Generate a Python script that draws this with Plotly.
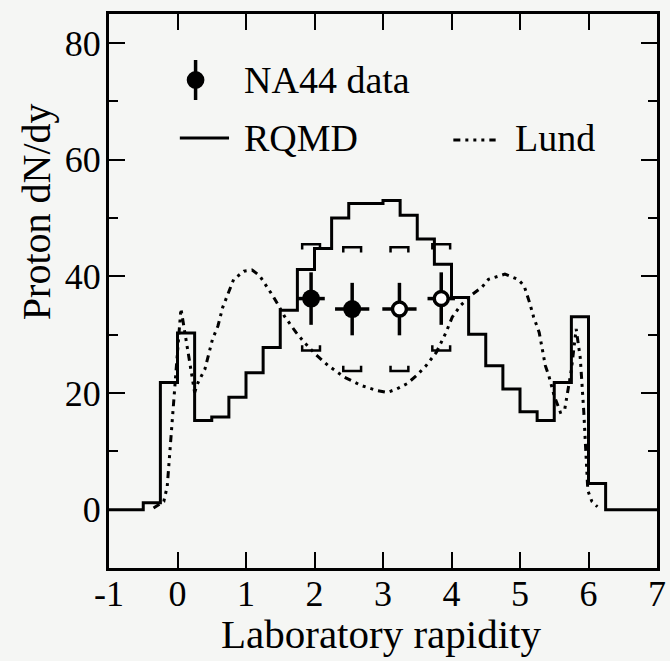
import plotly.graph_objects as go

# RQMD prediction: histogram bin edges (laboratory rapidity) and proton dN/dy per bin
rqmd_edges = [-1.0, -0.5, -0.25, 0.0, 0.25, 0.5, 0.75, 1.0, 1.25, 1.5, 1.75, 2.0,
              2.25, 2.5, 2.75, 3.0, 3.25, 3.5, 3.75, 4.0, 4.25, 4.5, 4.75, 5.0,
              5.25, 5.5, 5.75, 6.0, 6.25, 7.0]
rqmd_dndy = [0.0, 1.2, 21.8, 30.3, 15.3, 15.9, 19.3, 23.5, 27.8, 34.2, 41.2, 44.8,
             50.0, 52.5, 52.5, 53.0, 50.5, 46.4, 42.1, 36.4, 30.1, 24.7, 20.7, 16.8,
             15.3, 21.8, 33.1, 4.5, 0.0]

# Lund (FRITIOF) prediction
lund_y_lab = [-0.35, -0.2, -0.15, -0.08, -0.02, 0.05, 0.13, 0.2, 0.25, 0.3, 0.4, 0.51,
              0.59, 0.66, 0.73, 0.82, 0.97, 1.09, 1.2, 1.3, 1.39, 1.49, 1.56, 1.73,
              1.85, 2.01, 2.2, 2.44, 2.68, 2.92, 3.06, 3.2, 3.35, 3.49, 3.63, 3.78,
              3.92, 4.01, 4.13, 4.3, 4.44, 4.54, 4.78, 4.97, 5.06, 5.14, 5.2, 5.28,
              5.32, 5.37, 5.42, 5.5, 5.59, 5.65, 5.75, 5.82, 5.88, 5.93, 5.99, 6.05, 6.13]
lund_dndy = [0.3, 1.4, 4.0, 14.0, 24.0, 34.5, 29.0, 24.0, 20.1, 21.8, 24.1, 29.2,
             31.5, 34.7, 36.9, 39.5, 40.9, 41.1, 40.1, 38.4, 36.7, 34.7, 33.2, 30.4,
             28.7, 26.7, 24.7, 22.7, 21.3, 20.4, 20.1, 20.7, 21.6, 23.0, 24.7, 27.0,
             30.4, 33.0, 35.0, 36.9, 38.1, 39.5, 40.4, 39.5, 38.4, 35.5, 33.0, 30.4,
             27.8, 24.7, 23.0, 19.5, 16.7, 17.0, 24.0, 31.0, 26.0, 17.0, 3.3, 1.4, 0.5]

# NA44 measured points and their reflection about mid-rapidity
na44_y_lab = [1.95, 2.55]
na44_dndy = [36.2, 34.4]
refl_y_lab = [3.24, 3.85]
refl_dndy = [34.4, 36.2]
stat_err = [4.5, 4.5]
refl_stat_err = [4.5, 4.5]
bin_halfwidth = [0.2, 0.25]
refl_bin_halfwidth = [0.25, 0.2]

# systematic error brackets (upper / lower) for all four points
sys_y_lab = na44_y_lab + refl_y_lab
sys_hi = [45.5, 45.0, 45.0, 45.5]
sys_lo = [27.3, 23.8, 23.8, 27.3]

x_ticks = [-1, 0, 1, 2, 3, 4, 5, 6, 7]
y_ticks = [0, 20, 40, 60, 80]

FONT = "Liberation Serif, Times New Roman, serif"
INK = "black"
BG = "#f5f6f4"
DASHDOT = "7px,5px,3px,5px,3px,5px,3px,5px"

fig = go.Figure()

# histogram drawn as a stepped line
step_x = rqmd_edges[:-1] + [rqmd_edges[-1]]
step_y = rqmd_dndy + [rqmd_dndy[-1]]
fig.add_trace(go.Scatter(x=step_x, y=step_y, mode="lines", line_shape="hv",
                         line=dict(color=INK, width=3), hoverinfo="skip"))

fig.add_trace(go.Scatter(x=lund_y_lab, y=lund_dndy, mode="lines",
                         line=dict(color=INK, width=3, dash=DASHDOT),
                         hoverinfo="skip"))

# systematic brackets: short horizontal bar with end ticks pointing toward the point
bx, by = [], []
half = 0.13
tick = 0.9
for xc, hi, lo in zip(sys_y_lab, sys_hi, sys_lo):
    bx += [xc - half, xc - half, xc + half, xc + half, None]
    by += [hi - tick, hi, hi, hi - tick, None]
    bx += [xc - half, xc - half, xc + half, xc + half, None]
    by += [lo + tick, lo, lo, lo + tick, None]
fig.add_trace(go.Scatter(x=bx, y=by, mode="lines", line=dict(color=INK, width=2.5),
                         hoverinfo="skip"))

err_style = dict(type="data", color=INK, thickness=3.5, width=0)
fig.add_trace(go.Scatter(
    x=na44_y_lab, y=na44_dndy, mode="markers",
    error_y=dict(array=stat_err, **err_style),
    error_x=dict(array=bin_halfwidth, **err_style),
    marker=dict(symbol="circle", size=18, color=INK, line=dict(width=0))))
fig.add_trace(go.Scatter(
    x=refl_y_lab, y=refl_dndy, mode="markers",
    error_y=dict(array=refl_stat_err, **err_style),
    error_x=dict(array=refl_bin_halfwidth, **err_style),
    marker=dict(symbol="circle", size=14, color="white", line=dict(width=3.5, color=INK))))

# legend, drawn by hand in paper coordinates
W, H = 670, 661
L, R, T, B = 109, 4, 14, 93
pw, ph = W - L - R, H - T - B


def px(x):
    return (x - L) / pw


def py(y):
    return (H - B - y) / ph


shapes = []
# NA44 symbol
r = 9
shapes.append(dict(type="line", xref="paper", yref="paper", x0=px(197), x1=px(197),
                   y0=py(60), y1=py(100), line=dict(color=INK, width=3.5)))
shapes.append(dict(type="circle", xref="paper", yref="paper", x0=px(197 - r), x1=px(197 + r),
                   y0=py(80 + r), y1=py(80 - r), fillcolor=INK, line=dict(color=INK, width=0)))
# RQMD sample
shapes.append(dict(type="line", xref="paper", yref="paper", x0=px(181), x1=px(231),
                   y0=py(138), y1=py(138), line=dict(color=INK, width=3)))
# Lund sample
shapes.append(dict(type="line", xref="paper", yref="paper", x0=px(459), x1=px(502),
                   y0=py(140), y1=py(140), line=dict(color=INK, width=3, dash=DASHDOT)))

annotations = [
    dict(text="NA44 data", x=px(244), y=py(80), xref="paper", yref="paper",
         xanchor="left", yanchor="middle", showarrow=False, font=dict(size=38, color=INK, family=FONT)),
    dict(text="RQMD", x=px(244), y=py(138), xref="paper", yref="paper",
         xanchor="left", yanchor="middle", showarrow=False, font=dict(size=38, color=INK, family=FONT)),
    dict(text="Lund", x=px(520), y=py(138), xref="paper", yref="paper",
         xanchor="left", yanchor="middle", showarrow=False, font=dict(size=38, color=INK, family=FONT)),
    dict(text="Proton dN/dy", x=px(36), y=py(212), xref="paper", yref="paper", textangle=-90,
         xanchor="center", yanchor="middle", showarrow=False, font=dict(size=40, color=INK, family=FONT)),
    dict(text="Laboratory rapidity", x=px(385), y=py(634), xref="paper", yref="paper",
         xanchor="center", yanchor="middle", showarrow=False, font=dict(size=41, color=INK, family=FONT)),
]

axis_common = dict(showline=True, linewidth=3, linecolor=INK, mirror="allticks",
                   ticks="inside", ticklen=16, tickwidth=2, tickcolor=INK,
                   showgrid=False, zeroline=False, ticklabeloverflow="allow",
                   tickfont=dict(size=36, color=INK, family=FONT))

fig.update_layout(
    width=W, height=H,
    margin=dict(l=L, r=R, t=T, b=B),
    paper_bgcolor=BG, plot_bgcolor=BG,
    showlegend=False,
    shapes=shapes, annotations=annotations,
    xaxis=dict(range=[-1, 7], tickvals=x_ticks, ticktext=[str(v) for v in x_ticks],
               ticklabelstandoff=-8, **axis_common),
    yaxis=dict(range=[-10, 85], tickvals=y_ticks, ticktext=[str(v) for v in y_ticks],
               ticklabelstandoff=-2,
               minor=dict(tickvals=[-10, 10, 30, 50, 70], ticks="inside", ticklen=9,
                          tickwidth=2, tickcolor=INK),
               **axis_common),
)

fig.write_html("out.html")
